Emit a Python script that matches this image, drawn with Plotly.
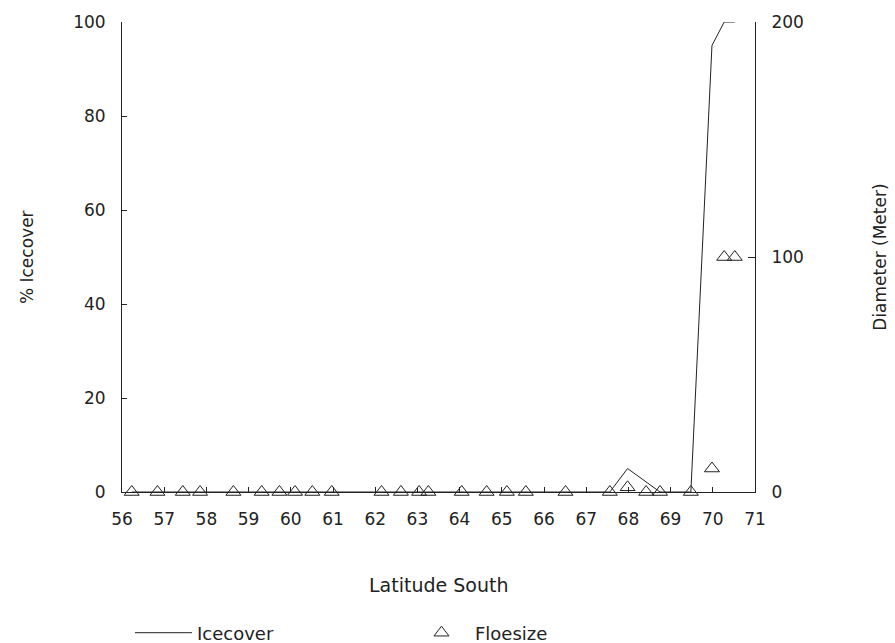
import plotly.graph_objects as go

# ---- data ----
lat_ice = [56.23, 56.84, 57.44, 57.85, 58.64, 59.31, 59.73, 60.10, 60.51, 60.97,
           62.15, 62.61, 63.04, 63.26, 64.05, 64.64, 65.12, 65.57, 66.51, 67.56,
           67.98, 68.75, 69.48, 69.98, 70.27, 70.52]
icecover = [0, 0, 0, 0, 0, 0, 0, 0, 0, 0,
            0, 0, 0, 0, 0, 0, 0, 0, 0, 0,
            5, 0, 0, 95, 100, 100]

lat_floe = [56.23, 56.84, 57.44, 57.85, 58.64, 59.31, 59.73, 60.10, 60.51, 60.97,
            62.15, 62.61, 63.04, 63.26, 64.05, 64.64, 65.12, 65.57, 66.51, 67.56,
            67.98, 68.42, 68.75, 69.48, 69.98, 70.27, 70.52]
floesize = [0, 0, 0, 0, 0, 0, 0, 0, 0, 0,
            0, 0, 0, 0, 0, 0, 0, 0, 0, 0,
            2, 0, 0, 0, 10, 100, 100]

x_ticks = list(range(56, 72))
ice_ticks = [0, 20, 40, 60, 80, 100]
floe_ticks = [0, 100, 200]

FONT = "DejaVu Sans"
INK = "#222222"

fig = go.Figure()
fig.add_trace(go.Scatter(
    x=lat_ice, y=icecover, mode="lines", name="Icecover",
    line=dict(color=INK, width=1), yaxis="y", cliponaxis=False))
fig.add_trace(go.Scatter(
    x=lat_floe, y=floesize, mode="markers", name="Floesize",
    marker=dict(symbol="triangle-up-open", size=13, color=INK,
                line=dict(width=1, color=INK)),
    yaxis="y2", cliponaxis=False))

axis_common = dict(showgrid=False, zeroline=False, showline=True,
                   linecolor=INK, linewidth=1, ticks="inside",
                   tickcolor=INK, tickwidth=1,
                   tickfont=dict(family=FONT, size=17, color=INK))

fig.update_layout(
    width=895, height=643,
    margin=dict(l=122, r=140, t=22, b=151, autoexpand=False),
    paper_bgcolor="white", plot_bgcolor="white",
    font=dict(family=FONT, size=18, color=INK),
    xaxis=dict(range=[56, 71], tickmode="array", tickvals=x_ticks,
               ticklen=5, ticklabelstandoff=12, **axis_common),
    yaxis=dict(range=[0, 100], tickmode="array", tickvals=ice_ticks,
               ticklen=5, ticklabelstandoff=12, **axis_common),
    yaxis2=dict(range=[0, 200], tickmode="array", tickvals=floe_ticks,
                overlaying="y", side="right", ticklen=7,
                ticklabelstandoff=12, **axis_common),
    showlegend=True,
    legend=dict(orientation="h", x=0.0126, xanchor="left", y=-0.30,
                yanchor="middle", itemwidth=57, entrywidth=206,
                entrywidthmode="pixels",
                font=dict(family=FONT, size=18, color=INK),
                bgcolor="rgba(0,0,0,0)"),
    annotations=[
        dict(text="Latitude South", xref="paper", yref="paper", x=0.5,
             y=-0.198, xanchor="center", yanchor="middle", showarrow=False,
             font=dict(family=FONT, size=19, color=INK)),
        dict(text="% Icecover", xref="paper", yref="paper", x=-0.150,
             y=0.5, xanchor="center", yanchor="middle", textangle=-90,
             showarrow=False, font=dict(family=FONT, size=17, color=INK)),
        dict(text="Diameter (Meter)", xref="paper", yref="paper", x=1.197,
             y=0.5, xanchor="center", yanchor="middle", textangle=-90,
             showarrow=False, font=dict(family=FONT, size=17, color=INK)),
    ],
)

fig.write_html("out.html")
